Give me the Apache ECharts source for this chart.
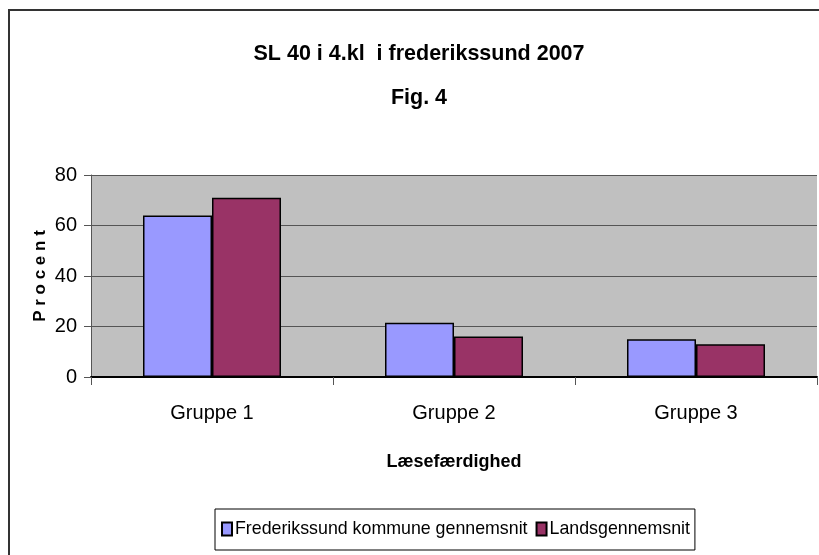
<!DOCTYPE html>
<html>
<head>
<meta charset="utf-8">
<script src="https://cdn.jsdelivr.net/npm/echarts@6/dist/echarts.min.js"></script>
<style>html,body{margin:0;padding:0;background:#fff}#c{width:819px;height:555px}</style>
</head>
<body>
<div id="c"></div>
<script>
const categories = ['Gruppe 1', 'Gruppe 2', 'Gruppe 3'];
const seriesNames = ['Frederikssund kommune gennemsnit', 'Landsgennemsnit'];
const kommuneValues = [64, 21.5, 15];
const landsValues = [71, 16, 13];
const yTicks = [0, 20, 40, 60, 80];

const FONT = "'Liberation Sans Narrow', 'Arial Narrow', 'Liberation Sans', sans-serif";
const chart = echarts.init(document.getElementById('c'), null, {renderer: 'canvas'});
chart.setOption({
  animation: false,
  backgroundColor: '#fff',
  textStyle: {fontFamily: FONT},
  title: {
    text: 'SL 40 i 4.kl  i frederikssund 2007\nFig. 4',
    left: 414, top: 27, textAlign: 'center',
    textStyle: {fontFamily: FONT, fontSize: 21.5, fontWeight: 'bold', color: '#000', lineHeight: 44}
  },
  graphic: [{
    type: 'rect', silent: true, z: -1,
    shape: {x: 9, y: 10, width: 900, height: 700},
    style: {fill: null, stroke: '#333', lineWidth: 2}
  }],
  legend: {
    left: 215, top: 509,
    padding: [11, 5, 12, 6],
    borderColor: '#000', borderWidth: 1,
    itemWidth: 10, itemHeight: 13, itemGap: 8,
    icon: 'rect',
    textStyle: {fontFamily: FONT, fontSize: 17.8, color: '#000', padding: [0, 0, 0, -2]},
    data: seriesNames
  },
  grid: {left: 91, right: 2, top: 175, bottom: 178, show: true, backgroundColor: '#C0C0C0', borderWidth: 0},
  xAxis: {
    type: 'category', data: categories,
    name: 'Læsefærdighed', nameLocation: 'middle', nameGap: 76, nameMoveOverlap: false,
    nameTextStyle: {fontFamily: FONT, fontSize: 18, fontWeight: 'bold', color: '#000'},
    axisLine: {lineStyle: {color: '#000', width: 2}},
    axisTick: {show: true, length: 8, lineStyle: {color: '#555'}},
    axisLabel: {fontFamily: FONT, fontSize: 20, color: '#000', margin: 26}
  },
  yAxis: {
    type: 'value', min: 0, max: 80, interval: 20,
    name: 'P r o c e n t', nameLocation: 'middle', nameGap: 42, nameRotate: 90, nameMoveOverlap: false,
    nameTextStyle: {fontFamily: FONT, fontSize: 17, fontWeight: 'bold', color: '#000'},
    axisLine: {show: true, lineStyle: {color: '#555', width: 1}},
    axisTick: {show: true, length: 7, lineStyle: {color: '#555'}},
    axisLabel: {fontFamily: FONT, fontSize: 20, color: '#000', margin: 14,
      formatter: v => yTicks.includes(v) ? String(v) : ''},
    splitLine: {show: true, lineStyle: {color: '#555', width: 1}}
  },
  series: [
    {name: seriesNames[0], type: 'bar', data: kommuneValues, barWidth: 69, barGap: '0%',
      itemStyle: {color: '#9999FF', borderColor: '#000', borderWidth: 1.5}},
    {name: seriesNames[1], type: 'bar', data: landsValues, barWidth: 69, barGap: '0%',
      itemStyle: {color: '#993366', borderColor: '#000', borderWidth: 1.5}}
  ]
});
</script>
</body>
</html>
